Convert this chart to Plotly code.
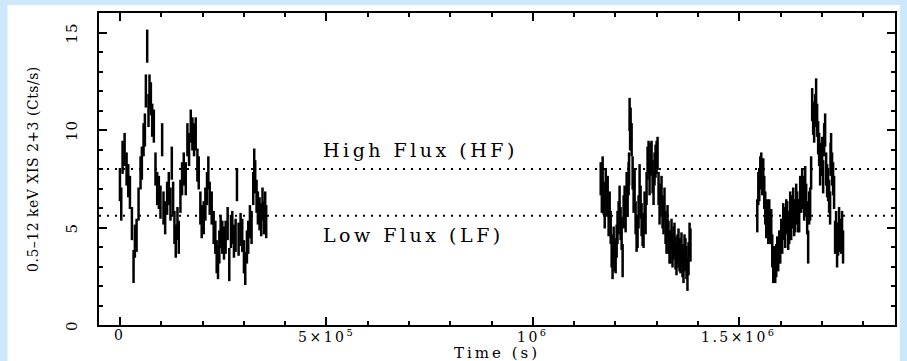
import plotly.graph_objects as go

# Light curve, 0.5-12 keV XIS 2+3 count rate; times in ks, rates in cts/s
t1_ks = [0, 3.2, 6.4, 11.3, 16.1, 20.1, 24.2, 29.0, 33.0, 36.2, 40.3, 45.1, 49.9, 53.1,
         57.2, 60.4, 62.8, 66.0, 69.2, 71.6, 74.9, 78.1, 82.1, 86.1, 90.2, 94.2, 98.2,
         102.2, 105.5, 109.5, 114.3, 118.3, 122.4, 125.6, 128.8, 132.0, 135.2, 139.3,
         142.5, 146.5, 150.5, 154.6, 159.4, 163.4, 167.4, 171.5, 175.5, 179.5, 183.5,
         187.6, 190.8, 194.8, 198.0, 202.9, 206.9, 210.9, 214.1, 217.4, 222.2, 227.0,
         231.0, 234.3, 237.5, 240.7, 243.9, 247.9, 252.0, 256.0, 260.8, 264.8, 268.9,
         272.1, 276.1, 280.1, 283.4, 287.4, 292.2, 296.2, 300.3, 303.5, 307.5, 310.7,
         314.8, 318.8, 322.8, 325.2, 327.6, 330.9, 334.1, 338.1, 342.1, 345.3, 348.6,
         351.8, 354.2]
rate1 = [7.2, 6.2, 8.6, 9.0, 8.0, 7.4, 6.8, 5.2, 3.0, 4.3, 4.6, 6.2, 7.8, 8.3,
         9.5, 10.0, 12.0, 14.3, 11.0, 12.0, 11.6, 10.5, 10.2, 8.0, 7.0, 6.8, 6.3,
         9.5, 6.0, 5.5, 6.5, 7.0, 6.2, 8.3, 6.5, 5.0, 4.3, 5.2,
         4.5, 6.6, 7.5, 8.0, 7.5, 9.5, 9.0, 10.2, 9.8, 9.5, 9.8,
         8.2, 7.8, 6.0, 5.3, 5.5, 6.2, 7.0, 7.8, 6.5, 6.0, 5.0,
         4.5, 3.5, 3.2, 4.0, 4.8, 4.5, 4.2, 4.5, 5.2, 3.1, 4.8,
         5.0, 4.3, 4.6, 7.2, 4.4, 4.9, 4.6, 3.5, 2.9, 4.0, 4.5,
         5.3, 5.0, 7.0, 8.2, 7.6, 6.6, 6.0, 5.7, 5.4, 6.2, 5.5,
         6.0, 5.3]

t2_ks = [1164.3, 1167.0, 1169.0, 1171.5, 1174.0, 1176.5, 1179.0, 1181.2, 1183.5, 1186.0,
         1188.5, 1190.8, 1193.0, 1195.7, 1198.0, 1200.5, 1202.9, 1205.0, 1207.7, 1210.0,
         1212.5, 1215.0, 1217.4, 1219.8, 1222.2, 1224.6, 1227.1, 1229.5, 1231.9, 1233.0,
         1234.3, 1235.5, 1236.7, 1239.2, 1241.6, 1244.0, 1246.4, 1248.8, 1251.2, 1253.6,
         1256.0, 1258.5, 1260.9, 1263.3, 1265.7, 1268.1, 1270.5, 1273.0, 1275.4, 1277.8,
         1280.2, 1282.6, 1285.0, 1287.5, 1289.9, 1292.3, 1294.7, 1297.1, 1299.6, 1302.0,
         1304.4, 1306.8, 1309.2, 1311.6, 1314.0, 1316.4, 1318.8, 1321.3, 1323.7, 1326.1,
         1328.5, 1330.9, 1333.4, 1335.8, 1338.2, 1340.6, 1343.0, 1345.4, 1347.8, 1350.3,
         1352.7, 1355.1, 1357.5, 1359.9, 1362.4, 1364.8, 1367.2, 1369.6, 1372.0, 1374.4,
         1377.0, 1379.5, 1381.7]
rate2 = [7.5, 6.6, 7.8, 6.5, 5.8, 7.2, 6.4, 6.8, 5.4, 6.0,
         5.0, 3.8, 3.2, 4.2, 3.6, 3.5, 4.3, 5.0, 5.5, 6.3,
         5.2, 4.7, 3.3, 5.8, 6.3, 5.6, 7.0, 6.4, 7.5, 8.0,
         10.8, 9.8, 10.3, 9.5, 7.8, 6.6, 7.2, 5.5, 4.6, 4.8,
         5.8, 7.4, 6.3, 5.4, 4.9, 4.8, 6.0, 5.5, 7.0, 8.3,
         8.6, 7.5, 8.5, 8.6, 7.6, 7.0, 8.0, 8.4, 8.6, 8.8,
         7.0, 6.0, 6.4, 6.8, 5.8, 5.5, 6.2, 5.0, 4.5, 5.3,
         4.5, 4.0, 4.0, 4.6, 3.8, 4.2, 4.4, 3.7, 3.4, 3.8,
         4.1, 3.6, 3.5, 3.9, 3.3, 3.0, 3.8, 3.6, 3.2, 2.6,
         3.4, 4.4, 4.1]

t3_ks = [1543.5, 1546.0, 1548.3, 1550.8, 1553.2, 1555.6, 1558.0, 1560.4, 1562.8, 1565.2,
         1567.6, 1570.0, 1572.5, 1574.9, 1577.3, 1579.7, 1582.2, 1584.6, 1587.0, 1589.4,
         1591.8, 1594.2, 1596.6, 1599.1, 1601.5, 1603.9, 1606.3, 1608.7, 1611.1, 1613.6,
         1616.0, 1618.4, 1620.8, 1623.2, 1625.6, 1628.0, 1630.5, 1632.9, 1635.3, 1637.7,
         1640.1, 1642.5, 1645.0, 1647.4, 1649.8, 1652.2, 1654.6, 1657.0, 1659.5, 1661.9,
         1664.3, 1666.7, 1669.1, 1671.5, 1673.9, 1676.4, 1678.8, 1681.2, 1683.6, 1686.0,
         1688.4, 1690.9, 1693.3, 1695.7, 1698.1, 1700.5, 1703.0, 1705.4, 1707.8, 1710.2,
         1712.6, 1715.0, 1717.4, 1719.8, 1721.0, 1722.2, 1724.6, 1727.1, 1729.5, 1731.9,
         1734.3, 1736.7, 1739.1, 1741.6, 1744.0, 1746.4, 1748.8, 1751.2]
rate3 = [5.6, 7.0, 7.2, 7.8, 8.0, 7.5, 7.7, 6.8, 6.0, 5.3,
         5.6, 5.0, 5.6, 5.0, 5.1, 3.8, 3.0, 3.2, 3.0, 3.3,
         3.7, 3.6, 4.0, 4.0, 4.6, 4.5, 5.4, 5.2, 4.8, 5.6,
         5.5, 4.7, 5.0, 6.0, 5.2, 5.8, 6.2, 5.4, 5.6, 6.4,
         6.0, 5.6, 5.6, 6.8, 6.6, 7.2, 6.8, 6.2, 7.3, 6.4,
         5.5, 4.0, 6.0, 6.2, 7.8, 11.3, 10.6, 10.2, 11.0, 11.8,
         10.5, 9.6, 9.0, 8.0, 8.5, 8.8, 7.6, 9.5, 10.0, 8.0,
         7.4, 7.2, 6.6, 6.0, 8.5, 9.0, 8.0, 7.5, 6.8, 4.5,
         5.0, 3.8, 4.4, 5.2, 4.6, 4.5, 5.0, 4.0]

rate_err = 0.85      # cts/s, typical 1-sigma error per bin
bin_half_ks = 1.6    # half bin width, ks

# Flux-state thresholds (cts/s)
hf_level = 8.0
lf_level = 5.6

x_tickvals = [0, 5e5, 1e6, 1.5e6]
x_ticktext = ["0", "5×10<sup>5</sup>", "10<sup>6</sup>", "1.5×10<sup>6</sup>"]
y_tickvals = [0, 5, 10, 15]
y_ticktext = ["0", "5", "10", "15"]

SERIF = "DejaVu Serif"


def spaced(text, px):
    """Wrap text in a span with extra letter spacing (plot-package lettering look)."""
    return f'<span style="letter-spacing:{px}px">{text}</span>'


fig = go.Figure()
for t_ks, rate in [(t1_ks, rate1), (t2_ks, rate2), (t3_ks, rate3)]:
    fig.add_trace(go.Scatter(
        x=[v * 1e3 for v in t_ks], y=rate, mode="markers",
        marker=dict(size=1, color="black"),
        error_y=dict(type="constant", value=rate_err, width=0, thickness=2.5, color="black"),
        error_x=dict(type="constant", value=bin_half_ks * 1e3, width=0, thickness=2.5, color="black"),
        showlegend=False, hoverinfo="skip",
    ))

for lvl in (hf_level, lf_level):
    fig.add_shape(type="line", xref="paper", x0=0, x1=1, yref="y", y0=lvl, y1=lvl,
                  line=dict(color="black", width=2, dash="2px,6px"))

# White page area inside the light-blue border
fig.add_shape(type="rect", xref="paper", yref="paper", x0=-0.115, x1=1.006, y0=-0.2, y1=1.026,
              fillcolor="white", line=dict(width=0), layer="below")

fig.add_annotation(x=4.88e5, y=8.95, xref="x", yref="y", text=spaced("High Flux (HF)", 3.5),
                   showarrow=False, xanchor="left", yanchor="middle",
                   font=dict(family=SERIF, size=19, color="black"))
fig.add_annotation(x=4.88e5, y=4.6, xref="x", yref="y", text=spaced("Low Flux (LF)", 3.5),
                   showarrow=False, xanchor="left", yanchor="middle",
                   font=dict(family=SERIF, size=19, color="black"))

# Rotated y tick labels, set out from the frame
for val, lab in zip(y_tickvals, y_ticktext):
    fig.add_annotation(x=-0.034, y=val, xref="paper", yref="y", text=spaced(lab, 1),
                       textangle=-90, showarrow=False, xanchor="center", yanchor="middle",
                       font=dict(family=SERIF, size=15, color="black"))

# x tick labels hugging the lower frame
for val, lab in zip(x_tickvals, x_ticktext):
    fig.add_annotation(x=val, y=-0.004, xref="x", yref="paper", text=spaced(lab, 2.5),
                       showarrow=False, xanchor="center", yanchor="top", borderpad=0,
                       font=dict(family=SERIF, size=14, color="black"))

fig.add_annotation(x=-0.083, y=0.5, xref="paper", yref="paper",
                   text=spaced("0.5–12 keV XIS 2+3 (Cts/s)", 0.5),
                   textangle=-90, showarrow=False, xanchor="center", yanchor="middle",
                   font=dict(family=SERIF, size=14, color="black"))
fig.add_annotation(x=0.5, y=-0.089, xref="paper", yref="paper", text=spaced("Time (s)", 3),
                   showarrow=False, xanchor="center", yanchor="middle", borderpad=0,
                   font=dict(family=SERIF, size=15, color="black"))

axis_common = dict(showline=True, linecolor="black", linewidth=2, mirror="allticks",
                   ticks="inside", tickcolor="black", tickwidth=1.5, ticklen=8,
                   showgrid=False, zeroline=False)

fig.update_xaxes(range=[-5.07e4, 1.877e6], tickmode="array", tickvals=x_tickvals, showticklabels=False,
                 minor=dict(dtick=1e5, tick0=0, ticks="inside", ticklen=4, tickcolor="black", tickwidth=1.5),
                 **axis_common)
fig.update_yaxes(range=[0, 16], tickmode="array", tickvals=y_tickvals, showticklabels=False,
                 minor=dict(dtick=1, tick0=0, ticks="inside", ticklen=4, tickcolor="black", tickwidth=1.5),
                 **axis_common)

fig.update_layout(width=907, height=361, margin=dict(l=99, r=10, t=13, b=36),
                  paper_bgcolor="#cce8fa", plot_bgcolor="white")

fig.write_html("out.html")
